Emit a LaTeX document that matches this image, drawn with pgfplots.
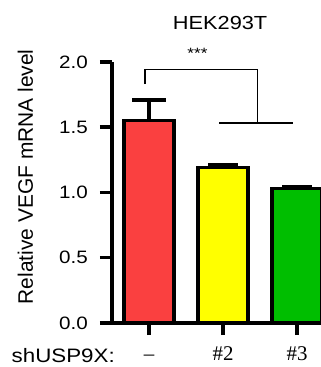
\documentclass[border=0pt]{standalone}
\usepackage{pgfplots}
\pgfplotsset{compat=1.18}
\usepackage{fontspec}
\setmainfont{Liberation Sans}
\newfontfamily\seriffont{Liberation Serif}
\usepackage{graphicx}
\definecolor{barred}{RGB}{250,64,64}
\definecolor{baryellow}{RGB}{255,255,0}
\definecolor{bargreen}{RGB}{0,190,0}
\newcommand\wide[1]{\scalebox{1.15}[1]{#1}}
\begin{document}
\begin{tikzpicture}
\begin{axis}[
  scale only axis, width=211bp, height=261bp,
  xmin=-0.5, xmax=2.35, ymin=0, ymax=2,
  axis lines=left, axis line style={-, line width=3.5bp, black},
  clip=false,
  /pgf/number format/assume math mode=true,
  ytick={0,0.5,1,1.5,2},
  yticklabel={\wide{\pgfmathprintnumber[fixed,fixed zerofill,precision=1]{\tick}}},
  yticklabel style={font=\fontsize{18}{18}\selectfont, inner sep=0pt, xshift=-12bp},
  xtick={0,1,2}, xticklabels={–, \#2, \#3},
  xticklabel style={font=\seriffont\fontsize{21}{21}\selectfont, anchor=base, inner sep=0pt, yshift=-25bp},
  tick align=outside, major tick length=12bp,
  every tick/.style={black, line width=3.5bp},
  ylabel={Relative VEGF mRNA level},
  ylabel style={font=\fontsize{21}{21}\selectfont, at={(axis description cs:-0.41,0.56)}, anchor=center},
]
\addplot[ybar, bar shift=0pt, bar width=0.676, fill=barred, draw=black, line width=3.5bp,
  error bars/.cd, y dir=plus, y explicit,
  error bar style={line width=3.5bp, black},
  error mark options={rotate=90, line width=3.5bp, mark size=17bp, black}]
  coordinates {(0,1.55) +- (0,0.16)};
\addplot[ybar, bar shift=0pt, bar width=0.676, fill=baryellow, draw=black, line width=3.5bp,
  error bars/.cd, y dir=plus, y explicit,
  error bar style={line width=3.5bp, black},
  error mark options={rotate=90, line width=3.5bp, mark size=15bp, black}]
  coordinates {(1,1.19) +- (0,0.02)};
\addplot[ybar, bar shift=0pt, bar width=0.676, fill=bargreen, draw=black, line width=3.5bp,
  error bars/.cd, y dir=plus, y explicit,
  error bar style={line width=3.5bp, black},
  error mark options={rotate=90, line width=3.5bp, mark size=15bp, black}]
  coordinates {(2,1.03) +- (0,0.012)};
\draw[line width=1.3bp] (axis cs:-0.054,1.83) -- (axis cs:-0.054,1.94) -- (axis cs:1.47,1.94) -- (axis cs:1.47,1.533);
\draw[line width=1.3bp] (axis cs:0.946,1.533) -- (axis cs:1.946,1.533);
\node[font=\fontsize{15}{15}\selectfont] at (axis cs:0.655,2.07) {\wide{***}};
\node[font=\fontsize{19}{19}\selectfont, inner sep=0pt, anchor=base] at (axis cs:0.96,2.25) {\wide{HEK293T}};
\node[font=\fontsize{19.5}{19.5}\selectfont, anchor=base east, inner sep=0pt] at ([yshift=-39bp]axis cs:-0.46,0) {\wide{shUSP9X:}};
\end{axis}
\pgfresetboundingbox
\useasboundingbox (-112bp,-44bp) rectangle (209bp,323bp);
\end{tikzpicture}
\end{document}
